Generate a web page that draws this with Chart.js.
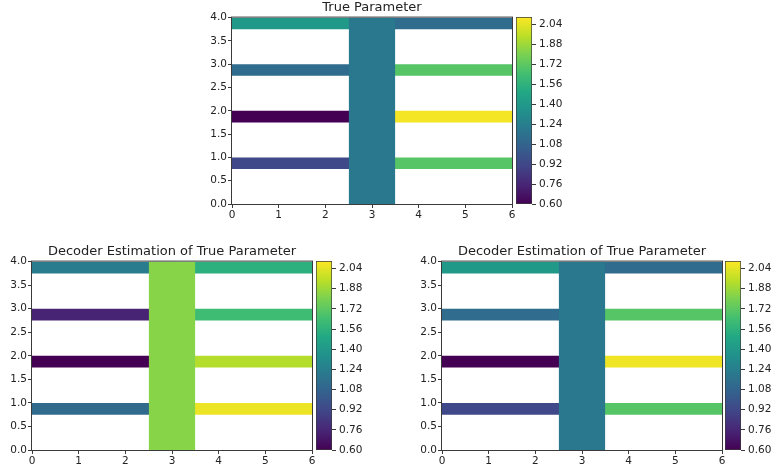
<!DOCTYPE html>
<html>
<head>
<meta charset="utf-8">
<script src="https://cdn.jsdelivr.net/npm/chart.js@4"></script>
<style>
  html, body { margin: 0; padding: 0; background: #fff; }
  #page { position: relative; width: 772px; height: 472px; overflow: hidden; background: #fff; }
  #page canvas { position: absolute; }
</style>
</head>
<body>
<div id="page">
  <canvas id="trueMain" width="340" height="230" style="left:202px;top:0px"></canvas>
  <canvas id="trueBar" width="56" height="230" style="left:516px;top:0px"></canvas>
  <canvas id="estAMain" width="340" height="232" style="left:2px;top:244px"></canvas>
  <canvas id="estABar" width="56" height="232" style="left:316px;top:244px"></canvas>
  <canvas id="estBMain" width="340" height="232" style="left:412px;top:244px"></canvas>
  <canvas id="estBBar" width="56" height="232" style="left:725px;top:244px"></canvas>
</div>
<script>
// Geometry of the parameter field (data units).
// The horizontal strips run underneath the column up to its centre line,
// and the column is painted over them, so no seam shows at the joins.
const rowBottoms = [0.75, 1.75, 2.75, 3.75];
const rowTops    = [1.00, 2.00, 3.00, 4.00];
const leftSpan   = [0, 3];
const rightSpan  = [3, 6];
const columnSpan = [2.5, 3.5];
const columnRange = [0, 4];

// Parameter values per strip (rows listed bottom to top)
const trueLeft   = [0.92, 0.60, 1.13, 1.40];
const trueRight  = [1.70, 2.08, 1.70, 1.13];
const trueColumn = 1.20;

const estALeft   = [1.12, 0.60, 0.75, 1.22];
const estARight  = [2.06, 1.93, 1.63, 1.55];
const estAColumn = 1.83;

const estBLeft   = [0.92, 0.60, 1.13, 1.40];
const estBRight  = [1.70, 2.07, 1.70, 1.13];
const estBColumn = 1.20;

// Colour scale
const vmin = 0.60;
const vmax = 2.10;
const colorbarTicks = [0.60, 0.76, 0.92, 1.08, 1.24, 1.40, 1.56, 1.72, 1.88, 2.04];
const xTicks = [0, 1, 2, 3, 4, 5, 6];
const yTicks = [0, 0.5, 1, 1.5, 2, 2.5, 3, 3.5, 4];

const viridisStops = ['#440154', '#482475', '#414487', '#355f8d', '#2a788e', '#21918c',
                      '#22a884', '#44bf70', '#7ad151', '#bddf26', '#fde725'];

const FONT = 'DejaVu Sans';
const TEXT = '#222';
const AXIS = '#3a3a3a';
const TICK_SIZE = 10.5;

function hexToRgb(h) {
  return [parseInt(h.slice(1, 3), 16), parseInt(h.slice(3, 5), 16), parseInt(h.slice(5, 7), 16)];
}
function viridis(v) {
  let t = (v - vmin) / (vmax - vmin);
  t = Math.max(0, Math.min(1, t));
  const pos = t * (viridisStops.length - 1);
  const i = Math.min(Math.floor(pos), viridisStops.length - 2);
  const f = pos - i;
  const a = hexToRgb(viridisStops[i]), b = hexToRgb(viridisStops[i + 1]);
  const c = a.map((x, k) => Math.round(x + (b[k] - x) * f));
  return `rgb(${c[0]},${c[1]},${c[2]})`;
}

// One filled dataset per strip: top edge line filled down to the bottom edge value
function strip(x0, x1, y0, y1, value) {
  return {
    data: [{ x: x0, y: y1 }, { x: x1, y: y1 }],
    fill: { value: y0 },
    backgroundColor: viridis(value),
    borderColor: 'rgba(0,0,0,0)',
    borderWidth: 0,
    pointRadius: 0,
    tension: 0
  };
}

function fieldDatasets(left, right, column) {
  // Chart.js paints the first dataset last, so the column goes first to sit on top
  const sets = [strip(columnSpan[0], columnSpan[1], columnRange[0], columnRange[1], column)];
  rowBottoms.forEach((b, i) => {
    sets.push(strip(leftSpan[0], leftSpan[1], b, rowTops[i], left[i]));
    sets.push(strip(rightSpan[0], rightSpan[1], b, rowTops[i], right[i]));
  });
  return sets;
}

// Box outline round the plotting area
const framePlugin = {
  id: 'frame',
  afterDatasetsDraw(chart) {
    const a = chart.chartArea;
    const ctx = chart.ctx;
    ctx.save();
    ctx.strokeStyle = AXIS;
    ctx.lineWidth = 1;
    ctx.strokeRect(a.left - 0.5, a.top - 0.5, a.right - a.left + 1, a.bottom - a.top + 1);
    ctx.restore();
  }
};

function tickGrid() {
  return { drawOnChartArea: false, drawTicks: true, tickLength: 4, color: AXIS, tickColor: AXIS, lineWidth: 1 };
}

function makeField(id, title, left, right, column) {
  new Chart(document.getElementById(id), {
    type: 'line',
    data: { datasets: fieldDatasets(left, right, column) },
    options: {
      responsive: false,
      animation: false,
      devicePixelRatio: 1,
      layout: { padding: 0 },
      plugins: {
        legend: { display: false },
        tooltip: { enabled: false },
        filler: { propagate: false },
        title: {
          display: true, text: title, color: TEXT,
          font: { family: FONT, size: 13, weight: 'normal' },
          padding: { top: 0, bottom: 2 }
        }
      },
      scales: {
        x: {
          type: 'linear', min: 0, max: 6,
          afterBuildTicks: s => { s.ticks = xTicks.map(v => ({ value: v })); },
          afterFit: s => { s.height = 26; },
          ticks: { color: TEXT, font: { family: FONT, size: TICK_SIZE }, padding: 1, maxRotation: 0,
                   callback: v => String(v) },
          grid: tickGrid(),
          border: { display: false }
        },
        y: {
          type: 'linear', min: 0, max: 4,
          afterBuildTicks: s => { s.ticks = yTicks.map(v => ({ value: v })); },
          afterFit: s => { s.width = 30; },
          ticks: { color: TEXT, font: { family: FONT, size: TICK_SIZE }, padding: 1,
                   callback: v => Number(v).toFixed(1) },
          grid: tickGrid(),
          border: { display: false }
        },
        // blank right-hand axis, same width as the left one, keeps the title centred over the plot
        yRight: {
          type: 'linear', position: 'right', min: 0, max: 4,
          afterFit: s => { s.width = 30; },
          ticks: { display: false },
          grid: { display: false },
          border: { display: false }
        }
      }
    },
    plugins: [framePlugin]
  });
}

function makeColorbar(id, topPad, bottomPad) {
  new Chart(document.getElementById(id), {
    type: 'bar',
    data: {
      labels: ['value'],
      datasets: [{
        data: [[vmin, vmax]],
        backgroundColor: ctx => {
          const a = ctx.chart.chartArea;
          if (!a) return viridis((vmin + vmax) / 2);
          const g = ctx.chart.ctx.createLinearGradient(0, a.bottom, 0, a.top);
          viridisStops.forEach((c, i) => g.addColorStop(i / (viridisStops.length - 1), c));
          return g;
        },
        borderColor: AXIS,
        borderWidth: 1,
        borderSkipped: false,
        categoryPercentage: 1,
        barPercentage: 1
      }]
    },
    options: {
      responsive: false,
      animation: false,
      devicePixelRatio: 1,
      layout: { padding: { top: topPad, right: 0, bottom: bottomPad, left: 0 } },
      plugins: { legend: { display: false }, tooltip: { enabled: false } },
      scales: {
        x: { display: false },
        y: {
          position: 'right', min: vmin, max: vmax,
          afterBuildTicks: s => { s.ticks = colorbarTicks.map(v => ({ value: v })); },
          afterFit: s => { s.width = 40; },
          ticks: { color: TEXT, font: { family: FONT, size: TICK_SIZE }, padding: 3,
                   callback: v => Number(v).toFixed(2) },
          grid: tickGrid(),
          border: { display: false }
        }
      }
    }
  });
}

makeField('trueMain', 'True Parameter', trueLeft, trueRight, trueColumn);
makeColorbar('trueBar', 17, 26);
makeField('estAMain', 'Decoder Estimation of True Parameter', estALeft, estARight, estAColumn);
makeColorbar('estABar', 17, 26);
makeField('estBMain', 'Decoder Estimation of True Parameter', estBLeft, estBRight, estBColumn);
makeColorbar('estBBar', 17, 26);
</script>
</body>
</html>
